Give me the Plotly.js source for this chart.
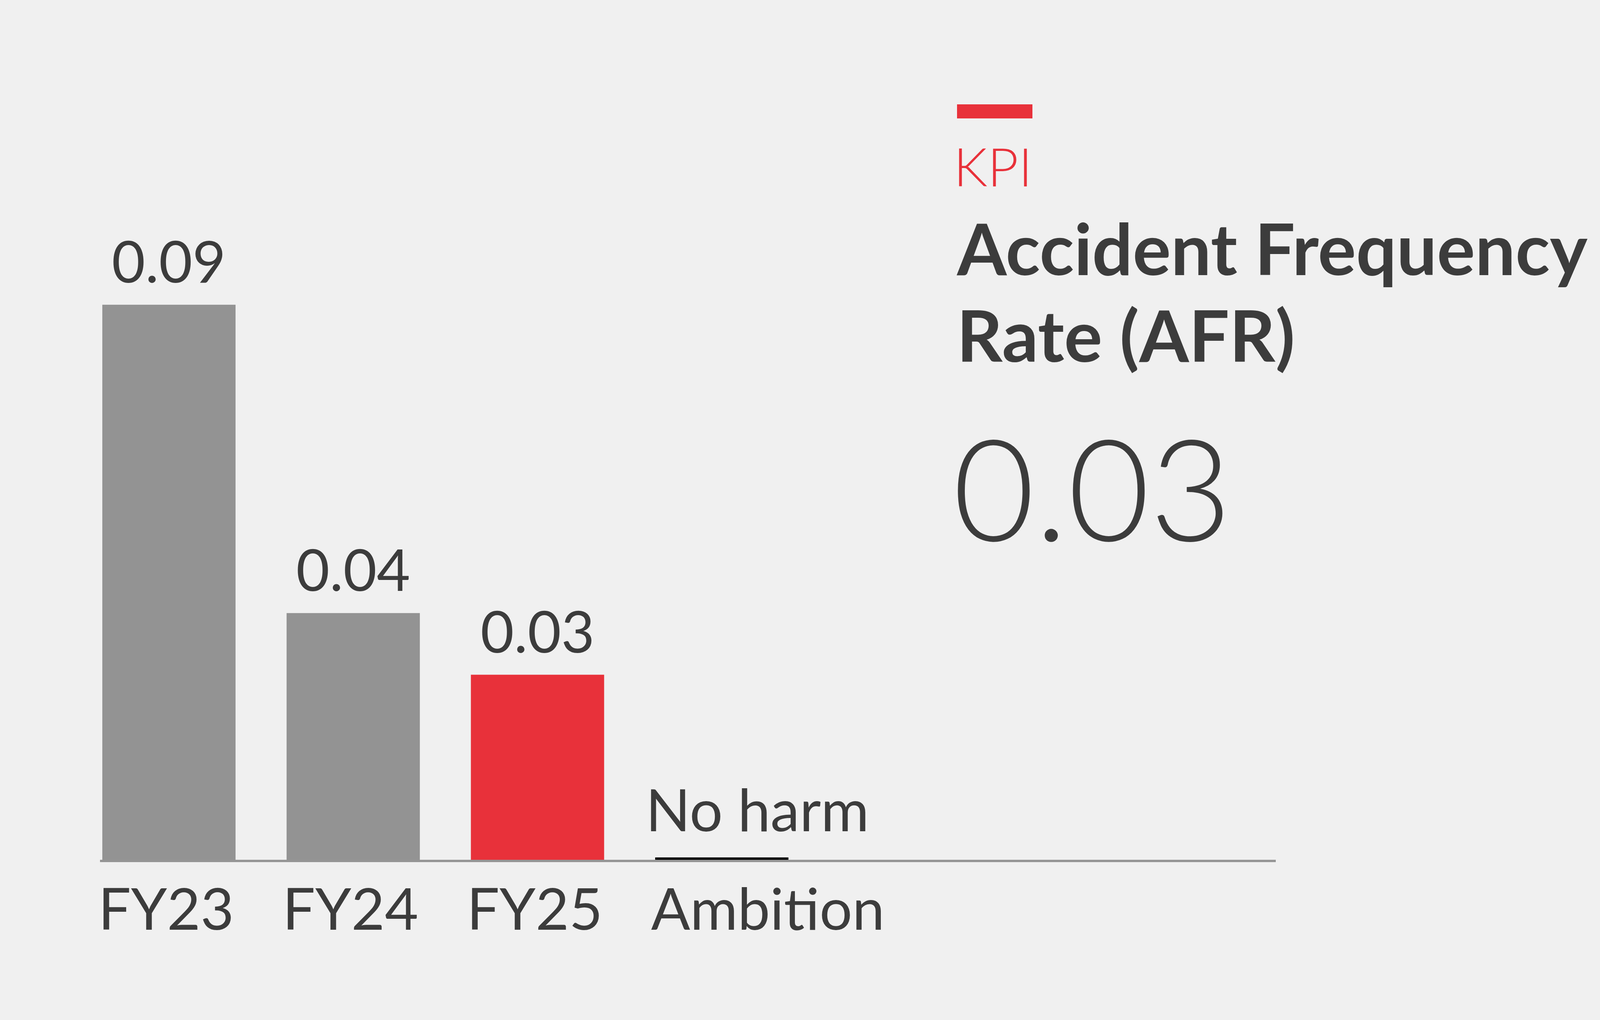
<!DOCTYPE html>
<html>
<head>
<meta charset="utf-8">
<script src="https://cdn.plot.ly/plotly-3.0.1.min.js"></script>
<style>
html,body{margin:0;padding:0;background:#f0f0f0;}
#chart{width:4500px;height:2610px;}
</style>
</head>
<body>
<div id="chart"></div>
<script>
// ---- data ----
const categories = ['FY23', 'FY24', 'FY25', 'Ambition'];
const barCategories = ['FY23', 'FY24', 'FY25'];
const afrValues = [0.09, 0.04, 0.03];
const valueLabels = ['0.09', '0.04', '0.03'];
const ambitionValue = 0;
const ambitionLabel = 'No harm';
const kpiTag = 'KPI';
const titleLines = ['Accident Frequency', 'Rate (AFR)'];
const headlineValue = '0.03';

// ---- style ----
const GRAY = '#939393';
const RED = '#e8313a';
const TEXT = '#3c3c3c';
const BG = '#f0f0f0';
const FONT = 'Lato, "Open Sans", sans-serif';
const barColors = ['#939393', '#939393', '#e8313a'];
const BARGAP = 0.277;
const W = 4500, H = 2610;

const barTrace = {
  type: 'bar',
  x: barCategories,
  y: afrValues,
  marker: {color: barColors, line: {width: 0}},
  hoverinfo: 'skip',
  showlegend: false
};

const annotations = [];
barCategories.forEach((c, i) => {
  annotations.push({
    xref: 'x', yref: 'y', x: c, y: afrValues[i],
    text: valueLabels[i], showarrow: false,
    xanchor: 'center', yanchor: 'bottom', yshift: 24, borderpad: 0,
    font: {family: FONT, size: 148, color: TEXT}
  });
});
annotations.push({
  xref: 'x', yref: 'y', x: 'Ambition', y: ambitionValue,
  text: ambitionLabel, showarrow: false,
  xanchor: 'left', yanchor: 'bottom', xshift: -196, yshift: 40, borderpad: 0,
  font: {family: FONT, size: 150, color: TEXT}
});
// right-hand text block (paper = whole figure since margins are 0)
annotations.push({
  xref: 'paper', yref: 'paper', x: 2440 / W, y: 1 - 507 / H,
  text: kpiTag, showarrow: false, xanchor: 'left', yanchor: 'bottom', borderpad: 0,
  font: {family: FONT, size: 137, color: RED, weight: 300}
});
annotations.push({
  xref: 'paper', yref: 'paper', x: 2448 / W, y: 1 - 744 / H,
  text: titleLines[0], showarrow: false, xanchor: 'left', yanchor: 'bottom', borderpad: 0,
  font: {family: FONT, size: 183, color: TEXT, weight: 700}
});
annotations.push({
  xref: 'paper', yref: 'paper', x: 2448 / W, y: 1 - 966 / H,
  text: titleLines[1], showarrow: false, xanchor: 'left', yanchor: 'bottom', borderpad: 0,
  font: {family: FONT, size: 183, color: TEXT, weight: 700}
});
annotations.push({
  xref: 'paper', yref: 'paper', x: 2438 / W, y: 1 - 1462 / H,
  text: headlineValue, showarrow: false, xanchor: 'left', yanchor: 'bottom', borderpad: 0,
  font: {family: FONT, size: 362, color: TEXT, weight: 300}
});

const ambIdx = categories.indexOf('Ambition');
const halfBar = (1 - BARGAP) / 2;
const shapes = [
  // ambition "no harm" marker line, sitting on the axis
  {type: 'rect', xref: 'x', yref: 'y', ysizemode: 'pixel', yanchor: ambitionValue,
   x0: ambIdx - halfBar, x1: ambIdx + halfBar, y0: 0, y1: 6,
   fillcolor: '#000000', line: {width: 0}},
  // red KPI accent bar
  {type: 'rect', xref: 'paper', yref: 'paper',
   x0: 2450 / W, x1: 2643 / W, y0: 1 - 303 / H, y1: 1 - 267 / H,
   fillcolor: RED, line: {width: 0}}
];

const layout = {
  width: W, height: H,
  paper_bgcolor: BG, plot_bgcolor: BG,
  margin: {l: 0, r: 0, t: 0, b: 0},
  bargap: BARGAP,
  showlegend: false,
  xaxis: {
    type: 'category',
    categoryorder: 'array', categoryarray: categories,
    tickvals: categories, ticktext: categories,
    domain: [256 / W, 3266 / W],
    range: [-0.374, 6.006],
    showline: true, linecolor: '#959595', linewidth: 6,
    showgrid: false, zeroline: false, ticks: '',
    tickangle: 0,
    ticklabelposition: 'outside right',
    ticklabelshift: -184,
    ticklabelstandoff: -5,
    tickfont: {family: FONT, size: 148, color: TEXT},
    fixedrange: true
  },
  yaxis: {
    domain: [1 - 2200 / H, 1 - 622 / H],
    range: [0, 0.1],
    visible: false, showgrid: false, zeroline: false, fixedrange: true
  },
  annotations: annotations,
  shapes: shapes
};

Plotly.newPlot('chart', [barTrace], layout, {displayModeBar: false, staticPlot: true});
</script>
</body>
</html>
